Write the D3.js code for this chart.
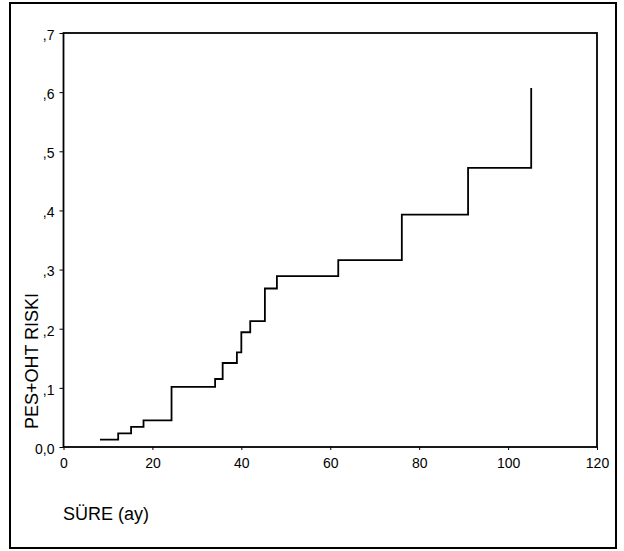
<!DOCTYPE html>
<html>
<head>
<meta charset="utf-8">
<script src="https://cdn.jsdelivr.net/npm/d3@7"></script>
<style>
  body { margin: 0; background: #fff; }
  text { font-family: "Liberation Sans", Arial, sans-serif; fill: #000; }
</style>
</head>
<body>
<script>
// step points of the curve (month, risk)
const months = [8.2, 12.3, 15.2, 18.0, 24.3, 34.1, 35.8, 39.0, 40.0, 42.0, 45.3, 48.0, 61.8, 76.1, 91.0, 105.2];
const risk = [0.0125, 0.023, 0.034, 0.045, 0.1015, 0.115, 0.142, 0.160, 0.194, 0.213, 0.268, 0.289, 0.316, 0.393, 0.472, 0.607];

const xTicks = [0, 20, 40, 60, 80, 100, 120];
const yTicks = [0, 0.1, 0.2, 0.3, 0.4, 0.5, 0.6, 0.7];
const yTickLabels = ["0,0", ",1", ",2", ",3", ",4", ",5", ",6", ",7"];

const width = 624, height = 551;
const margin = {top: 33, right: 27, bottom: 104, left: 63.5};

const svg = d3.select("body").append("svg")
    .attr("width", width)
    .attr("height", height);

// outer frame
svg.append("rect")
    .attr("x", 10).attr("y", 3)
    .attr("width", 606).attr("height", 545)
    .attr("fill", "none")
    .attr("stroke", "#000")
    .attr("stroke-width", 2);

const x = d3.scaleLinear()
    .domain([0, 120])
    .range([margin.left, width - margin.right]);

const y = d3.scaleLinear()
    .domain([0, 0.7])
    .range([height - margin.bottom, margin.top]);

// plot box
svg.append("rect")
    .attr("x", x(0)).attr("y", y(0.7))
    .attr("width", x(120) - x(0)).attr("height", y(0) - y(0.7))
    .attr("fill", "none")
    .attr("stroke", "#000")
    .attr("stroke-width", 1.8);

const xAxis = d3.axisBottom(x)
    .tickValues(xTicks)
    .tickSize(3)
    .tickPadding(8)
    .tickFormat(d3.format("d"));

svg.append("g")
    .attr("transform", "translate(0," + y(0) + ")")
    .call(xAxis)
    .call(g => g.select(".domain").remove())
    .call(g => g.selectAll("text").attr("font-size", 14).attr("font-family", null));

const yAxis = d3.axisLeft(y)
    .tickValues(yTicks)
    .tickSize(4)
    .tickPadding(5)
    .tickFormat((d, i) => yTickLabels[i]);

svg.append("g")
    .attr("transform", "translate(" + x(0) + ",0)")
    .call(yAxis)
    .call(g => g.select(".domain").remove())
    .call(g => g.selectAll("text").attr("font-size", 14).attr("font-family", null).attr("dy", "0.45em"));

// risk curve
const pts = months.map((m, i) => [m, risk[i]]);
const line = d3.line()
    .x(d => x(d[0]))
    .y(d => y(d[1]))
    .curve(d3.curveStepAfter);

svg.append("path")
    .datum(pts)
    .attr("d", line)
    .attr("fill", "none")
    .attr("stroke", "#000")
    .attr("stroke-width", 1.8);

// axis titles
svg.append("text")
    .attr("x", 63)
    .attr("y", 520)
    .attr("font-size", 18)
    .text("SÜRE (ay)");

svg.append("text")
    .attr("transform", "translate(38,361) rotate(-90)")
    .attr("text-anchor", "middle")
    .attr("font-size", 18)
    .text("PES+OHT RISKI");
</script>
</body>
</html>
